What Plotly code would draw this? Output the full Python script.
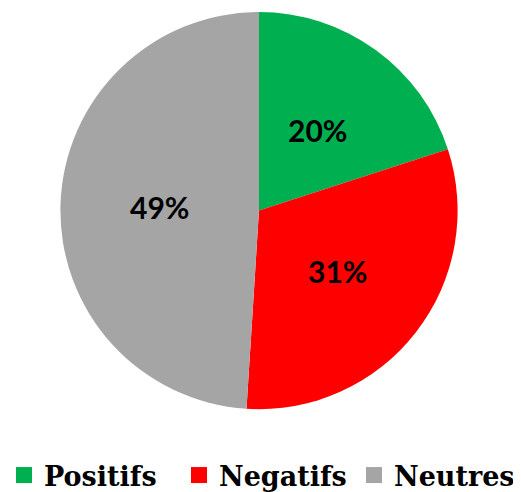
import math
import plotly.graph_objects as go

labels = ["Positifs", "Negatifs", "Neutres"]
values = [20, 31, 49]
colors = ["#00B050", "#FF0000", "#A5A5A5"]

W, H = 521, 492
# pie geometry in figure pixels (page has an 8px body offset)
CX, CY, R = 251, 203, 199

fig = go.Figure(go.Pie(
    labels=labels,
    values=values,
    sort=False,
    direction="clockwise",
    rotation=0,
    marker=dict(colors=colors, line=dict(width=0)),
    textinfo="none",
    showlegend=False,
    domain=dict(x=[(CX - R) / W, (CX + R) / W], y=[(H - CY - R) / H, (H - CY + R) / H]),
    hoverinfo="label+percent",
))

# legend-only entries with larger square swatches
for lab, col in zip(labels, colors):
    fig.add_trace(go.Scatter(
        x=[None], y=[None], mode="markers", name=lab,
        marker=dict(symbol="square", size=16, color=col),
        showlegend=True, hoverinfo="skip",
    ))

# percentage labels placed at half radius on each slice's mid-angle (Excel style)
total = sum(values)
cum = 0
for v in values:
    mid = (cum + v / 2) / total * 2 * math.pi
    cum += v
    px = CX + 0.5 * R * math.sin(mid)
    py = CY - 0.5 * R * math.cos(mid)
    fig.add_annotation(
        x=px / W, y=(H - py) / H, xref="paper", yref="paper",
        text=f"{round(100 * v / total)}%", showarrow=False,
        xanchor="center", yanchor="middle",
        font=dict(family="Lato", size=30, color="black", weight="bold"),
    )

fig.update_layout(
    width=W,
    height=H,
    margin=dict(l=0, r=0, t=0, b=0),
    paper_bgcolor="white",
    plot_bgcolor="white",
    xaxis=dict(visible=False),
    yaxis=dict(visible=False),
    showlegend=True,
    legend=dict(
        orientation="h",
        x=0.493, xanchor="center",
        y=24 / H, yanchor="middle",
        font=dict(family="DejaVu Serif", size=27, color="black", weight="bold"),
        itemwidth=30,
        entrywidth=130,
        entrywidthmode="pixels",
        traceorder="normal",
    ),
)

fig.write_html("out.html")
